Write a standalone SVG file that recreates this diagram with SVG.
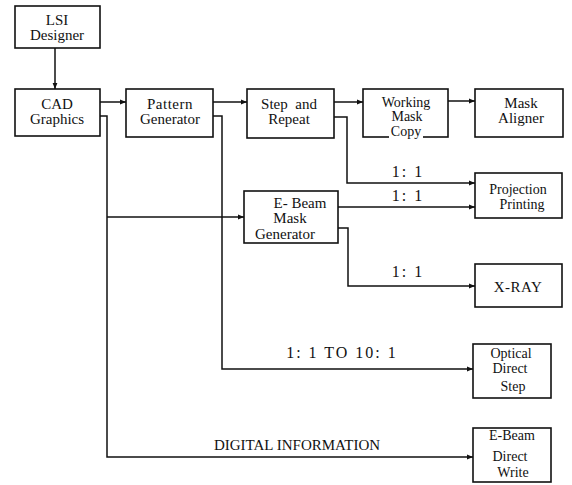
<svg xmlns="http://www.w3.org/2000/svg" width="572" height="485" viewBox="0 0 572 485">
<style>
.box{fill:#fff;stroke:#111;stroke-width:1.6}
text{font-family:'Liberation Serif','Times New Roman',serif;font-size:15px;fill:#111;text-anchor:middle}
.s{font-size:14px}
.r{font-size:16px;letter-spacing:2px}
.c{fill:none;stroke:#111;stroke-width:1.5}
</style>
<defs>
<marker id="ah" viewBox="0 0 10 10" refX="10" refY="5" markerWidth="7" markerHeight="6" markerUnits="userSpaceOnUse" orient="auto">
<path d="M0,1 L10,5 L0,9 Z" fill="#111"/>
</marker>
</defs>
<rect width="572" height="485" fill="#fff"/>
<g id="connectors">
<path class="c" d="M55,48 V89" marker-end="url(#ah)"/>
<path class="c" d="M100,102 H126" marker-end="url(#ah)"/>
<path class="c" d="M213,102 H247" marker-end="url(#ah)"/>
<path class="c" d="M334,102 H363" marker-end="url(#ah)"/>
<path class="c" d="M448,101 H475" marker-end="url(#ah)"/>
<path class="c" d="M100,116 H107 V457 H473" marker-end="url(#ah)"/>
<path class="c" d="M107,217 H244" marker-end="url(#ah)"/>
<path class="c" d="M213,116 H222 V369 H473" marker-end="url(#ah)"/>
<path class="c" d="M334,117 H347 V183 H475" marker-end="url(#ah)"/>
<path class="c" d="M338,207 H475" marker-end="url(#ah)"/>
<path class="c" d="M338,228 H348 V286 H475" marker-end="url(#ah)"/>
</g>
<g id="labels">
<text class="r" x="408" y="177">1: 1</text>
<text class="r" x="408" y="201">1: 1</text>
<text class="r" x="408" y="277">1: 1</text>
<text class="r" x="342" y="358">1: 1 TO 10: 1</text>
<text x="297" y="450">DIGITAL INFORMATION</text>
</g>
<g id="lsi">
<rect class="box" x="15" y="6" width="85" height="42"/>
<text x="57" y="25">LSI</text>
<text x="57" y="40">Designer</text>
</g>
<g id="cad">
<rect class="box" x="15" y="89" width="85" height="47"/>
<text x="57" y="109">CAD</text>
<text x="57" y="124">Graphics</text>
</g>
<g id="pattern">
<rect class="box" x="126" y="89" width="87" height="48"/>
<text x="170" y="109" letter-spacing="0.5">Pattern</text>
<text x="170" y="124">Generator</text>
</g>
<g id="step">
<rect class="box" x="247" y="89" width="87" height="49"/>
<text x="289" y="109" xml:space="preserve">Step  and</text>
<text x="289" y="124">Repeat</text>
</g>
<g id="working">
<rect class="box" x="363" y="89" width="85" height="48"/>
<rect x="389" y="131" width="34" height="8" fill="#fff"/>
<text class="s" x="406" y="107">Working</text>
<text class="s" x="407" y="121">Mask</text>
<text class="s" x="406" y="136">Copy</text>
</g>
<g id="aligner">
<rect class="box" x="475" y="89" width="88" height="48"/>
<text x="521" y="108">Mask</text>
<text x="521" y="123">Aligner</text>
</g>
<g id="projection">
<rect class="box" x="475" y="173" width="87" height="45"/>
<text class="s" x="518" y="194">Projection</text>
<text class="s" x="522" y="209">Printing</text>
</g>
<g id="ebeam-mask">
<rect class="box" x="244" y="191" width="94" height="52"/>
<text x="300" y="208">E- Beam</text>
<text x="290" y="223">Mask</text>
<text x="285" y="239">Generator</text>
</g>
<g id="xray">
<rect class="box" x="475" y="264" width="87" height="43"/>
<text x="518" y="292" letter-spacing="0.5">X-RAY</text>
</g>
<g id="optical">
<rect class="box" x="473" y="344" width="78" height="54"/>
<text class="s" x="511" y="358">Optical</text>
<text class="s" x="510" y="373">Direct</text>
<text class="s" x="513" y="391">Step</text>
</g>
<g id="ebeam-direct">
<rect class="box" x="473" y="428" width="78" height="54"/>
<text class="s" x="512" y="440">E-Beam</text>
<text class="s" x="510" y="461">Direct</text>
<text class="s" x="513" y="477">Write</text>
</g>
</svg>
